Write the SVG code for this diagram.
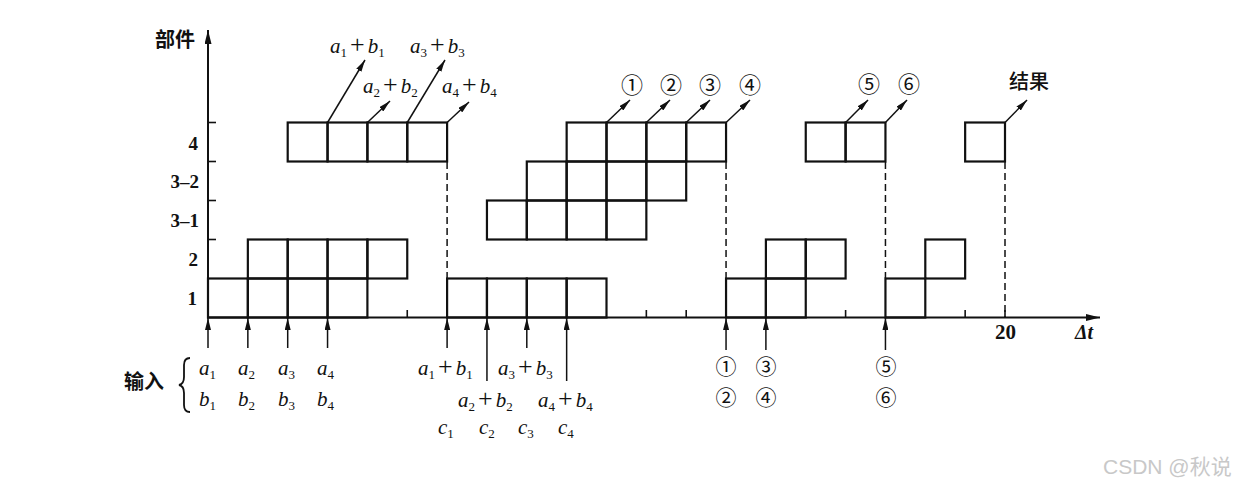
<svg xmlns="http://www.w3.org/2000/svg" width="1241" height="485" viewBox="0 0 1241 485">
<defs>
<marker id="ah" markerUnits="userSpaceOnUse" markerWidth="13" markerHeight="6" refX="12" refY="3" orient="auto">
<path d="M0,0 L12,3 L0,6 z" fill="#111"/>
</marker>
<marker id="ax" markerUnits="userSpaceOnUse" markerWidth="15" markerHeight="7" refX="14" refY="3.5" orient="auto">
<path d="M0,0 L14,3.5 L0,7 z" fill="#111"/>
</marker>
</defs>
<style>
.c{fill:none;stroke:#111;stroke-width:2.2}
.axis{stroke:#111;stroke-width:2;fill:none}
.tk{stroke:#111;stroke-width:1.6}
.dash{stroke:#111;stroke-width:1.5;stroke-dasharray:7 4;fill:none}
.ar{stroke:#111;stroke-width:1.5;fill:none}
.m{font-family:"Liberation Serif",serif;font-style:italic;font-size:21px;fill:#111}
.sb{font-size:13px;font-style:normal}
.pl{font-size:26px;font-style:normal}
.yl{font-family:"Liberation Serif",serif;font-weight:bold;font-size:19px;fill:#111;text-anchor:end}
.cj{font-family:"Noto Sans CJK SC",sans-serif;font-weight:bold;font-size:20px;fill:#111;text-anchor:middle;dominant-baseline:central}
.ci{font-family:"Noto Sans CJK SC",sans-serif;font-size:22px;fill:#111;text-anchor:middle;dominant-baseline:central}
.cb{font-family:"Noto Sans CJK SC",sans-serif;font-size:21px;fill:#111;text-anchor:middle;dominant-baseline:central}
.num{font-family:"Liberation Serif",serif;font-weight:bold;font-size:21px;fill:#111}
.wm{font-family:"Liberation Sans","Noto Sans CJK SC",sans-serif;font-size:21px;fill:#c8c8c8}
</style>
<rect width="1241" height="485" fill="#fff"/>

<!-- axes -->
<g id="axes">
<line class="axis" x1="208" y1="318" x2="208" y2="30" marker-end="url(#ax)"/>
<line class="axis" x1="207" y1="317.5" x2="1100" y2="317.5" marker-end="url(#ax)"/>
<g class="tk">
<line x1="208" y1="122.5" x2="216" y2="122.5"/>
<line x1="208" y1="161.5" x2="216" y2="161.5"/>
<line x1="208" y1="200.5" x2="216" y2="200.5"/>
<line x1="208" y1="239.5" x2="216" y2="239.5"/>
<line x1="407.25" y1="317.5" x2="407.25" y2="310"/>
<line x1="646.35" y1="317.5" x2="646.35" y2="310"/>
<line x1="686.2" y1="317.5" x2="686.2" y2="310"/>
<line x1="845.6" y1="317.5" x2="845.6" y2="310"/>
<line x1="965.15" y1="317.5" x2="965.15" y2="310"/>
<line x1="1005" y1="317.5" x2="1005" y2="310"/>
</g>
<text class="cj" x="175" y="38">部件</text>
<text class="yl" x="198" y="150">4</text>
<text class="yl" x="199" y="188">3–2</text>
<text class="yl" x="199" y="227">3–1</text>
<text class="yl" x="198" y="266">2</text>
<text class="yl" x="197" y="305">1</text>
<text class="num" x="995" y="339">20</text>
<text x="1075" y="339" style="font-family:'Liberation Serif',serif;font-weight:bold;font-style:italic;font-size:20px;fill:#111">Δt</text>
</g>

<!-- batch 1 -->
<g id="b1-row1">
<rect class="c" x="208" y="278.5" width="39.85" height="39"/>
<rect class="c" x="247.85" y="278.5" width="39.85" height="39"/>
<rect class="c" x="287.7" y="278.5" width="39.85" height="39"/>
<rect class="c" x="327.55" y="278.5" width="39.85" height="39"/>
</g>
<g id="b1-row2">
<rect class="c" x="247.85" y="239.5" width="39.85" height="39"/>
<rect class="c" x="287.7" y="239.5" width="39.85" height="39"/>
<rect class="c" x="327.55" y="239.5" width="39.85" height="39"/>
<rect class="c" x="367.4" y="239.5" width="39.85" height="39"/>
</g>
<g id="b1-row4">
<rect class="c" x="287.7" y="122.5" width="39.85" height="39"/>
<rect class="c" x="327.55" y="122.5" width="39.85" height="39"/>
<rect class="c" x="367.4" y="122.5" width="39.85" height="39"/>
<rect class="c" x="407.25" y="122.5" width="39.85" height="39"/>
</g>

<!-- batch 2 -->
<g id="b2-row1">
<rect class="c" x="447.1" y="278.5" width="39.85" height="39"/>
<rect class="c" x="486.95" y="278.5" width="39.85" height="39"/>
<rect class="c" x="526.8" y="278.5" width="39.85" height="39"/>
<rect class="c" x="566.65" y="278.5" width="39.85" height="39"/>
</g>
<g id="b2-row31">
<rect class="c" x="486.95" y="200.5" width="39.85" height="39"/>
<rect class="c" x="526.8" y="200.5" width="39.85" height="39"/>
<rect class="c" x="566.65" y="200.5" width="39.85" height="39"/>
<rect class="c" x="606.5" y="200.5" width="39.85" height="39"/>
</g>
<g id="b2-row32">
<rect class="c" x="526.8" y="161.5" width="39.85" height="39"/>
<rect class="c" x="566.65" y="161.5" width="39.85" height="39"/>
<rect class="c" x="606.5" y="161.5" width="39.85" height="39"/>
<rect class="c" x="646.35" y="161.5" width="39.85" height="39"/>
</g>
<g id="b2-row4">
<rect class="c" x="566.65" y="122.5" width="39.85" height="39"/>
<rect class="c" x="606.5" y="122.5" width="39.85" height="39"/>
<rect class="c" x="646.35" y="122.5" width="39.85" height="39"/>
<rect class="c" x="686.2" y="122.5" width="39.85" height="39"/>
</g>

<!-- batch 3 -->
<g id="b3-row1">
<rect class="c" x="726.05" y="278.5" width="39.85" height="39"/>
<rect class="c" x="765.9" y="278.5" width="39.85" height="39"/>
</g>
<g id="b3-row2">
<rect class="c" x="765.9" y="239.5" width="39.85" height="39"/>
<rect class="c" x="805.75" y="239.5" width="39.85" height="39"/>
</g>
<g id="b3-row4">
<rect class="c" x="805.75" y="122.5" width="39.85" height="39"/>
<rect class="c" x="845.6" y="122.5" width="39.85" height="39"/>
</g>

<!-- batch 4 -->
<g id="b4-row1"><rect class="c" x="885.45" y="278.5" width="39.85" height="39"/></g>
<g id="b4-row2"><rect class="c" x="925.3" y="239.5" width="39.85" height="39"/></g>
<g id="b4-row4"><rect class="c" x="965.15" y="122.5" width="39.85" height="39"/></g>

<!-- connectors -->
<g id="connectors">
<line class="dash" x1="447.1" y1="162" x2="447.1" y2="278"/>
<line class="dash" x1="726.05" y1="162" x2="726.05" y2="278"/>
<line class="dash" x1="885.45" y1="162" x2="885.45" y2="278"/>
<line class="dash" x1="1005" y1="162" x2="1005" y2="317"/>

<line class="ar" x1="327.55" y1="122.5" x2="365" y2="60" marker-end="url(#ah)"/>
<line class="ar" x1="367.4" y1="122.5" x2="390" y2="101" marker-end="url(#ah)"/>
<line class="ar" x1="407.25" y1="122.5" x2="445" y2="60" marker-end="url(#ah)"/>
<line class="ar" x1="447.1" y1="122.5" x2="469" y2="102" marker-end="url(#ah)"/>
<line class="ar" x1="606.5" y1="122.5" x2="630" y2="100" marker-end="url(#ah)"/>
<line class="ar" x1="646.35" y1="122.5" x2="670" y2="100" marker-end="url(#ah)"/>
<line class="ar" x1="686.2" y1="122.5" x2="710" y2="100" marker-end="url(#ah)"/>
<line class="ar" x1="726.05" y1="122.5" x2="750" y2="100" marker-end="url(#ah)"/>
<line class="ar" x1="845.6" y1="122.5" x2="868" y2="100" marker-end="url(#ah)"/>
<line class="ar" x1="885.45" y1="122.5" x2="907" y2="100" marker-end="url(#ah)"/>
<line class="ar" x1="1005" y1="122.5" x2="1027" y2="100" marker-end="url(#ah)"/>

<line class="ar" x1="208" y1="348" x2="208" y2="318" marker-end="url(#ah)"/>
<line class="ar" x1="247.85" y1="348" x2="247.85" y2="318" marker-end="url(#ah)"/>
<line class="ar" x1="287.7" y1="348" x2="287.7" y2="318" marker-end="url(#ah)"/>
<line class="ar" x1="327.55" y1="348" x2="327.55" y2="318" marker-end="url(#ah)"/>
<line class="ar" x1="447.1" y1="348" x2="447.1" y2="318" marker-end="url(#ah)"/>
<line class="ar" x1="486.95" y1="381" x2="486.95" y2="318" marker-end="url(#ah)"/>
<line class="ar" x1="526.8" y1="348" x2="526.8" y2="318" marker-end="url(#ah)"/>
<line class="ar" x1="566.65" y1="381" x2="566.65" y2="318" marker-end="url(#ah)"/>
<line class="ar" x1="726.05" y1="350" x2="726.05" y2="318" marker-end="url(#ah)"/>
<line class="ar" x1="765.9" y1="350" x2="765.9" y2="318" marker-end="url(#ah)"/>
<line class="ar" x1="885.45" y1="350" x2="885.45" y2="318" marker-end="url(#ah)"/>
</g>

<!-- top labels -->
<g id="top-labels">
<text class="m" x="330" y="53">a<tspan class="sb" dy="4">1</tspan><tspan class="pl" dy="-4" dx="3">+</tspan><tspan dx="3">b</tspan><tspan class="sb" dy="4">1</tspan></text>
<text class="m" x="410" y="53">a<tspan class="sb" dy="4">3</tspan><tspan class="pl" dy="-4" dx="3">+</tspan><tspan dx="3">b</tspan><tspan class="sb" dy="4">3</tspan></text>
<text class="m" x="363" y="93">a<tspan class="sb" dy="4">2</tspan><tspan class="pl" dy="-4" dx="3">+</tspan><tspan dx="3">b</tspan><tspan class="sb" dy="4">2</tspan></text>
<text class="m" x="442" y="93">a<tspan class="sb" dy="4">4</tspan><tspan class="pl" dy="-4" dx="3">+</tspan><tspan dx="3">b</tspan><tspan class="sb" dy="4">4</tspan></text>
<text class="ci" x="632" y="83">①</text>
<text class="ci" x="671" y="83">②</text>
<text class="ci" x="710" y="83">③</text>
<text class="ci" x="750" y="83">④</text>
<text class="ci" x="869" y="82">⑤</text>
<text class="ci" x="909" y="82">⑥</text>
<text class="cj" x="1029" y="80" style="font-weight:500">结果</text>
</g>

<!-- bottom labels -->
<g id="inputs">
<text class="cj" x="144" y="380">输入</text>
<path d="M190,358 Q184,358 184,365 L184,377 Q184,384 179,385 Q184,386 184,393 L184,405 Q184,412 190,412" fill="none" stroke="#111" stroke-width="1.8"/>
<text class="m" x="199" y="375">a<tspan class="sb" dy="4">1</tspan></text>
<text class="m" x="238" y="375">a<tspan class="sb" dy="4">2</tspan></text>
<text class="m" x="278" y="375">a<tspan class="sb" dy="4">3</tspan></text>
<text class="m" x="317" y="375">a<tspan class="sb" dy="4">4</tspan></text>
<text class="m" x="199" y="406">b<tspan class="sb" dy="4">1</tspan></text>
<text class="m" x="238" y="406">b<tspan class="sb" dy="4">2</tspan></text>
<text class="m" x="278" y="406">b<tspan class="sb" dy="4">3</tspan></text>
<text class="m" x="317" y="406">b<tspan class="sb" dy="4">4</tspan></text>

<text class="m" x="418" y="375">a<tspan class="sb" dy="4">1</tspan><tspan class="pl" dy="-4" dx="3">+</tspan><tspan dx="3">b</tspan><tspan class="sb" dy="4">1</tspan></text>
<text class="m" x="498" y="375">a<tspan class="sb" dy="4">3</tspan><tspan class="pl" dy="-4" dx="3">+</tspan><tspan dx="3">b</tspan><tspan class="sb" dy="4">3</tspan></text>
<text class="m" x="458" y="407">a<tspan class="sb" dy="4">2</tspan><tspan class="pl" dy="-4" dx="3">+</tspan><tspan dx="3">b</tspan><tspan class="sb" dy="4">2</tspan></text>
<text class="m" x="538" y="407">a<tspan class="sb" dy="4">4</tspan><tspan class="pl" dy="-4" dx="3">+</tspan><tspan dx="3">b</tspan><tspan class="sb" dy="4">4</tspan></text>
<text class="m" x="438" y="434">c<tspan class="sb" dy="4">1</tspan></text>
<text class="m" x="479" y="434">c<tspan class="sb" dy="4">2</tspan></text>
<text class="m" x="518" y="434">c<tspan class="sb" dy="4">3</tspan></text>
<text class="m" x="558" y="434">c<tspan class="sb" dy="4">4</tspan></text>

<text class="cb" x="726" y="365">①</text>
<text class="cb" x="726" y="396">②</text>
<text class="cb" x="766" y="365">③</text>
<text class="cb" x="766" y="396">④</text>
<text class="cb" x="886" y="365">⑤</text>
<text class="cb" x="886" y="396">⑥</text>
</g>

<text class="wm" x="1103" y="474">CSDN @秋说</text>
</svg>
